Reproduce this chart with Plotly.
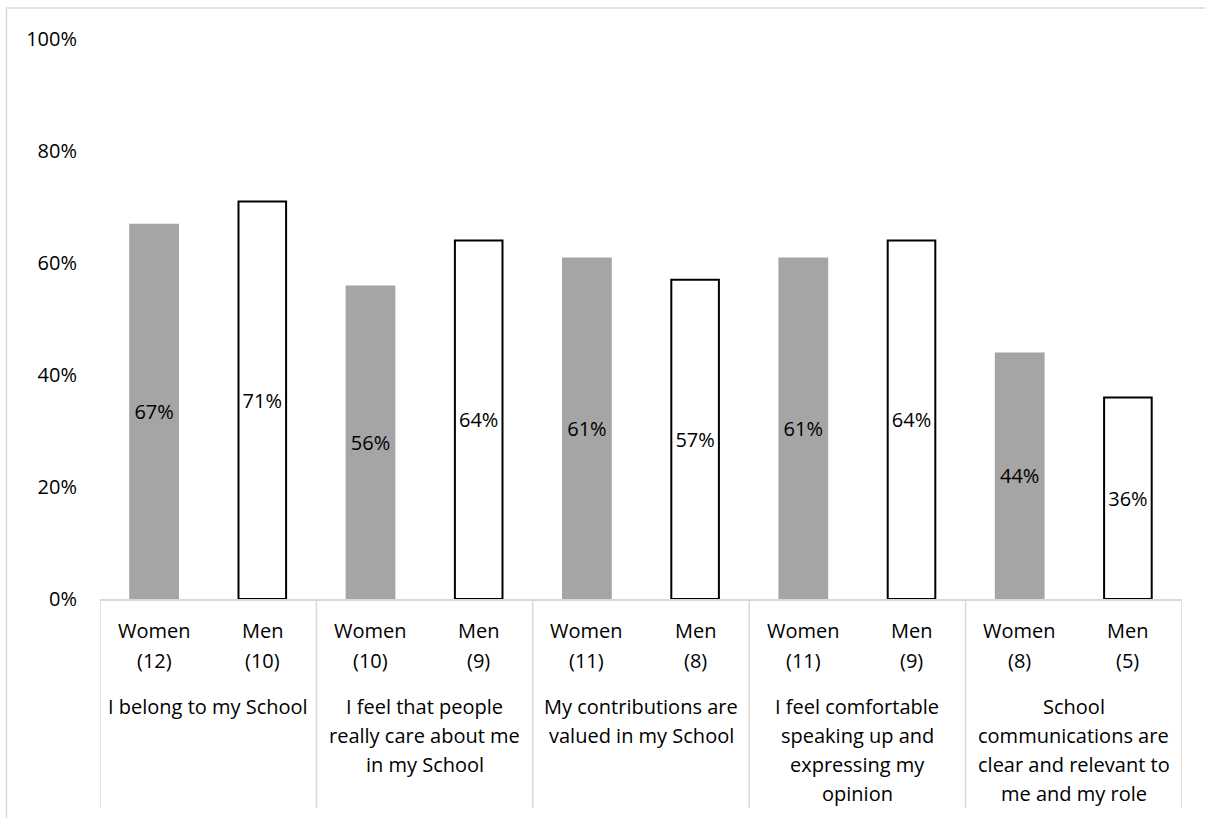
import plotly.graph_objects as go

# Survey statements (outer axis level), one line per list entry
statements = [
    ["I belong to my School"],
    ["I feel that people", "really care about me", "in my School"],
    ["My contributions are", "valued in my School"],
    ["I feel comfortable", "speaking up and", "expressing my", "opinion"],
    ["School", "communications are", "clear and relevant to", "me and my role"],
]

# Respondent counts per group
women_n = [12, 10, 11, 11, 8]
men_n = [10, 9, 8, 9, 5]

# Share agreeing (%)
women_pct = [67, 56, 61, 61, 44]
men_pct = [71, 64, 57, 64, 36]

y_tick_vals = [0, 20, 40, 60, 80, 100]
y_tick_text = ["0%", "20%", "40%", "60%", "80%", "100%"]

FONT = "Open Sans"
FS = 20
GRID = "#D9D9D9"

n_groups = len(statements)
women_x = [2 * i for i in range(n_groups)]
men_x = [2 * i + 1 for i in range(n_groups)]

fig = go.Figure()

fig.add_trace(go.Bar(
    x=women_x, y=women_pct, width=0.46, name="Women",
    marker=dict(color="#A5A5A5", line=dict(width=0)),
    text=[f"{v}%" for v in women_pct], textposition="inside",
    insidetextanchor="middle", textangle=0,
    textfont=dict(family=FONT, size=FS, color="#000000"),
))
fig.add_trace(go.Bar(
    x=men_x, y=men_pct, width=0.44, name="Men",
    marker=dict(color="#FFFFFF", line=dict(width=2, color="#000000")),
    text=[f"{v}%" for v in men_pct], textposition="inside",
    insidetextanchor="middle", textangle=0,
    textfont=dict(family=FONT, size=FS, color="#000000"),
))

annotations = []
# Inner category labels: gender and count
for i in range(n_groups):
    for x, gender, n in ((women_x[i], "Women", women_n[i]), (men_x[i], "Men", men_n[i])):
        for k, line in enumerate([gender, f"({n})"]):
            annotations.append(dict(
                x=x, y=0, xref="x", yref="y", text=line, showarrow=False,
                xanchor="center", yanchor="middle", yshift=-(31 + 30 * k),
                font=dict(family=FONT, size=FS, color="#000000"),
            ))
# Outer category labels: statements
for i, lines in enumerate(statements):
    for k, line in enumerate(lines):
        annotations.append(dict(
            x=2 * i + 0.5, y=0, xref="x", yref="y", text=line, showarrow=False,
            xanchor="center", yanchor="middle", yshift=-(107 + 29 * k),
            font=dict(family=FONT, size=FS, color="#000000"),
        ))

shapes = []
# Group dividers below the axis
for b in range(n_groups + 1):
    shapes.append(dict(
        type="line", xref="x", yref="paper", x0=2 * b - 0.5, x1=2 * b - 0.5,
        y0=0, y1=-0.373, line=dict(color=GRID, width=1.5),
    ))
# Chart area border
shapes.append(dict(
    type="rect", xref="paper", yref="paper", x0=-0.0865, x1=1.2,
    y0=-0.6, y1=1.0554, line=dict(color=GRID, width=1.5), layer="below",
))

fig.update_layout(
    width=1205, height=818,
    margin=dict(l=100, r=23, t=39, b=219),
    paper_bgcolor="#FFFFFF", plot_bgcolor="#FFFFFF",
    barmode="overlay", showlegend=False,
    font=dict(family=FONT, size=FS, color="#000000"),
    annotations=annotations, shapes=shapes,
    xaxis=dict(
        range=[-0.5, 2 * n_groups - 0.5], showticklabels=False, ticks="",
        showgrid=False, zeroline=False, showline=True, linecolor=GRID, linewidth=1.5,
        fixedrange=True,
    ),
    yaxis=dict(
        range=[0, 100], tickvals=y_tick_vals, ticktext=y_tick_text, ticks="",
        showgrid=False, zeroline=False, showline=False, ticklabelstandoff=22,
        tickfont=dict(family=FONT, size=FS, color="#000000"), fixedrange=True,
    ),
)

fig.write_html("out.html")
